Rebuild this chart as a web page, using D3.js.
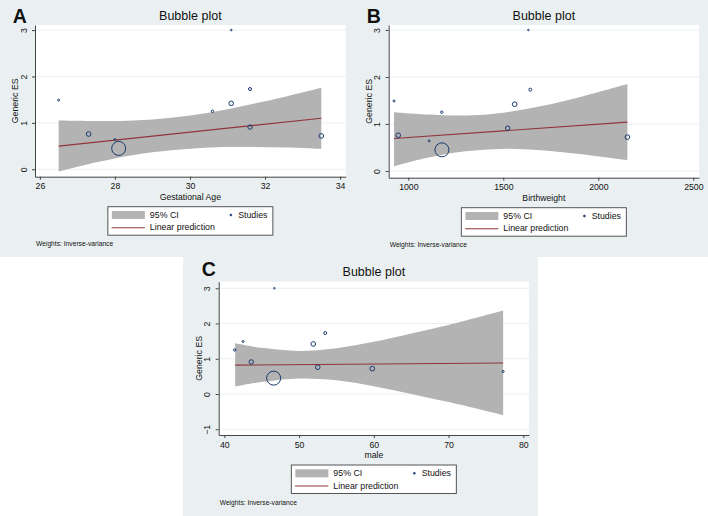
<!DOCTYPE html>
<html>
<head>
<meta charset="utf-8">
<script src="https://cdnjs.cloudflare.com/ajax/libs/d3/7.8.5/d3.min.js"></script>
<style>
body { margin: 0; background: #fff; }
text { font-family: "Liberation Sans", Arial, sans-serif; fill: #111; }
</style>
</head>
<body>
<div id="chart"></div>
<script>
// the same 10 studies appear in every panel
var effectSize  = [1.49, 0.76, 0.64, 0.45, 1.25, 3.00, 1.42, 1.73, 0.91, 0.72];
var studyWeight = [2, 11, 2, 100, 3, 1.3, 11, 4.6, 10, 11];
var gestAge     = [26.5, 27.3, 28.0, 28.1, 30.6, 31.1, 31.1, 31.6, 31.6, 33.5];
var birthweight = [925, 947, 1110, 1177, 1176, 1632, 1560, 1642, 1523, 2153];
var male        = [42.5, 52.5, 77.3, 46.6, 41.4, 46.7, 51.9, 53.5, 43.6, 59.8];

// linear prediction (end points) and 95% CI
var fitAx = [26.5, 33.5], fitAy = [0.50, 1.10];
var bandAx  = [26.5, 27.5, 28.5, 29.5, 30.5, 31.5, 32.5, 33.5];
var bandAlo = [-0.05, 0.15, 0.31, 0.41, 0.47, 0.48, 0.47, 0.44];
var bandAhi = [1.05, 1.04, 1.05, 1.11, 1.22, 1.38, 1.56, 1.76];

var fitBx = [925, 2153], fitBy = [0.69, 1.04];
var bandBx  = [925, 1100, 1300, 1500, 1700, 1900, 2153];
var bandBlo = [0.10, 0.28, 0.42, 0.47, 0.44, 0.36, 0.23];
var bandBhi = [1.25, 1.20, 1.18, 1.24, 1.38, 1.57, 1.85];

var fitCx = [41.45, 77.3], fitCy = [0.82, 0.88];
var bandCx  = [41.45, 45, 50, 55, 60, 65, 70, 77.3];
var bandClo = [0.21, 0.34, 0.44, 0.39, 0.22, 0.00, -0.23, -0.60];
var bandChi = [1.44, 1.31, 1.22, 1.30, 1.48, 1.72, 1.96, 2.37];

var ticksAx = [26, 28, 30, 32, 34], ticksAy = [0, 1, 2, 3];
var ticksBx = [1000, 1500, 2000, 2500], ticksBy = [0, 1, 2, 3];
var ticksCx = [40, 50, 60, 70, 80], ticksCy = [-1, 0, 1, 2, 3];

var bg = "#eaf0f2", navy = "#1a3a6e", maroon = "#90353b", ciGrey = "#b3b3b3";

var svg = d3.select("#chart").append("svg")
    .attr("width", 708).attr("height", 516);

var rScale = d3.scaleSqrt().domain([0, 100]).range([0, 7]);

var panels = [
  { letter: "A", bg: [0, 0, 355, 257], plot: {l: 35, r: 345.7, t: 25, b: 176.7},
    xd: [25.87, 34.15], yd: [-0.16, 3.11], lx: 12.7, ly: 23.3,
    xs: gestAge, xTitle: "Gestational Age", xt: ticksAx, yt: ticksAy,
    fx: fitAx, fy: fitAy, bx: bandAx, blo: bandAlo, bhi: bandAhi },
  { letter: "B", bg: [355, 0, 353, 257], plot: {l: 388.7, r: 699, t: 25, b: 177.7},
    xd: [896.8, 2530], yd: [-0.143, 3.106], lx: 366.7, ly: 23.3,
    xs: birthweight, xTitle: "Birthweight", xt: ticksBx, yt: ticksBy,
    fx: fitBx, fy: fitBy, bx: bandBx, blo: bandBlo, bhi: bandBhi },
  { letter: "C", bg: [183, 257, 355, 259], plot: {l: 218.7, r: 529, t: 281.7, b: 435},
    xd: [39.25, 80.76], yd: [-1.163, 3.186], lx: 201.7, ly: 275.7,
    xs: male, xTitle: "male", xt: ticksCx, yt: ticksCy,
    fx: fitCx, fy: fitCy, bx: bandCx, blo: bandClo, bhi: bandChi }
];

panels.forEach(function(p) {
  var g = svg.append("g");
  g.append("rect").attr("x", p.bg[0]).attr("y", p.bg[1])
    .attr("width", p.bg[2]).attr("height", p.bg[3]).attr("fill", bg);

  var pl = p.plot;
  g.append("rect").attr("x", pl.l).attr("y", pl.t)
    .attr("width", pl.r - pl.l).attr("height", pl.b - pl.t).attr("fill", "#fff");

  var x = d3.scaleLinear().domain(p.xd).range([pl.l, pl.r]);
  var y = d3.scaleLinear().domain(p.yd).range([pl.b, pl.t]);

  // grid lines
  g.selectAll(".grid").data(p.yt).enter().append("line")
    .attr("x1", pl.l).attr("x2", pl.r)
    .attr("y1", function(d) { return y(d); }).attr("y2", function(d) { return y(d); })
    .attr("stroke", bg).attr("stroke-width", 1);

  // CI band
  var band = p.bx.map(function(v, i) { return [v, p.blo[i], p.bhi[i]]; });
  g.append("path").datum(band)
    .attr("fill", ciGrey)
    .attr("d", d3.area().curve(d3.curveCatmullRom)
      .x(function(d) { return x(d[0]); })
      .y0(function(d) { return y(d[1]); })
      .y1(function(d) { return y(d[2]); }));

  // linear prediction
  g.append("path").datum(p.fx.map(function(v, i) { return [v, p.fy[i]]; }))
    .attr("fill", "none").attr("stroke", maroon).attr("stroke-width", 1.1)
    .attr("d", d3.line().x(function(d) { return x(d[0]); }).y(function(d) { return y(d[1]); }));

  // bubbles
  g.selectAll(".bubble").data(effectSize).enter().append("circle")
    .attr("cx", function(d, i) { return x(p.xs[i]); })
    .attr("cy", function(d) { return y(d); })
    .attr("r", function(d, i) { return rScale(studyWeight[i]); })
    .attr("fill", "none").attr("stroke", navy).attr("stroke-width", 1);

  // axes
  var xAxis = d3.axisBottom(x).tickValues(p.xt).tickFormat(d3.format("d"))
    .tickSize(3).tickSizeOuter(0).tickPadding(3.4);
  var gx = g.append("g").attr("transform", "translate(0," + pl.b + ")").call(xAxis);
  gx.selectAll("text").attr("font-size", 8.7).attr("fill", "#111")
    .style("font-family", "'Liberation Sans', Arial, sans-serif");
  gx.selectAll("path,line").attr("stroke", "#444");

  var yAxis = d3.axisLeft(y).tickValues(p.yt).tickFormat(d3.format("d"))
    .tickSize(3).tickSizeOuter(0);
  var gy = g.append("g").attr("transform", "translate(" + pl.l + ",0)").call(yAxis);
  gy.selectAll("text").attr("x", null).attr("dy", null)
    .attr("text-anchor", "middle")
    .attr("transform", "translate(-8.3,0) rotate(-90)")
    .attr("font-size", 8.7).attr("fill", "#111")
    .style("font-family", "'Liberation Sans', Arial, sans-serif");
  gy.selectAll("path,line").attr("stroke", "#444");

  var cx = (pl.l + pl.r) / 2;
  g.append("text").attr("x", cx).attr("y", pl.b + 23).attr("text-anchor", "middle")
    .attr("font-size", 8.7).text(p.xTitle);
  g.append("text").attr("text-anchor", "middle").attr("font-size", 8.8)
    .attr("transform", "translate(" + (pl.l - 16.7) + "," + ((pl.t + pl.b) / 2) + ") rotate(-90)")
    .text("Generic ES");
  g.append("text").attr("x", cx).attr("y", pl.t - 5.3).attr("text-anchor", "middle")
    .attr("font-size", 12.5).attr("fill", "#1e2a44").text("Bubble plot");
  g.append("text").attr("x", p.lx).attr("y", p.ly).attr("font-size", 19.5)
    .attr("font-weight", "bold").attr("fill", "#000").text(p.letter);

  // legend
  var lw = 165, lh = 28.5, lx = cx - lw / 2, ly = pl.b + 30;
  var lg = g.append("g").attr("transform", "translate(" + lx + "," + ly + ")");
  lg.append("rect").attr("width", lw).attr("height", lh)
    .attr("fill", "#fff").attr("stroke", "#555").attr("stroke-width", 1);
  lg.append("rect").attr("x", 4).attr("y", 4.3).attr("width", 33).attr("height", 8)
    .attr("fill", ciGrey);
  lg.append("text").attr("x", 42).attr("y", 11.2).attr("font-size", 8.8).text("95% CI");
  lg.append("circle").attr("cx", 123).attr("cy", 8.3).attr("r", 1)
    .attr("fill", navy).attr("stroke", navy).attr("stroke-width", 0.6);
  lg.append("text").attr("x", 130.3).attr("y", 11.2).attr("font-size", 8.8).text("Studies");
  lg.append("line").attr("x1", 3.7).attr("x2", 37).attr("y1", 21).attr("y2", 21)
    .attr("stroke", maroon).attr("stroke-width", 1.1);
  lg.append("text").attr("x", 42).attr("y", 23.5).attr("font-size", 8.8).text("Linear prediction");

  g.append("text").attr("x", pl.l + 1).attr("y", ly + 39.5).attr("font-size", 6.7)
    .text("Weights: Inverse-variance");
});
</script>
</body>
</html>
